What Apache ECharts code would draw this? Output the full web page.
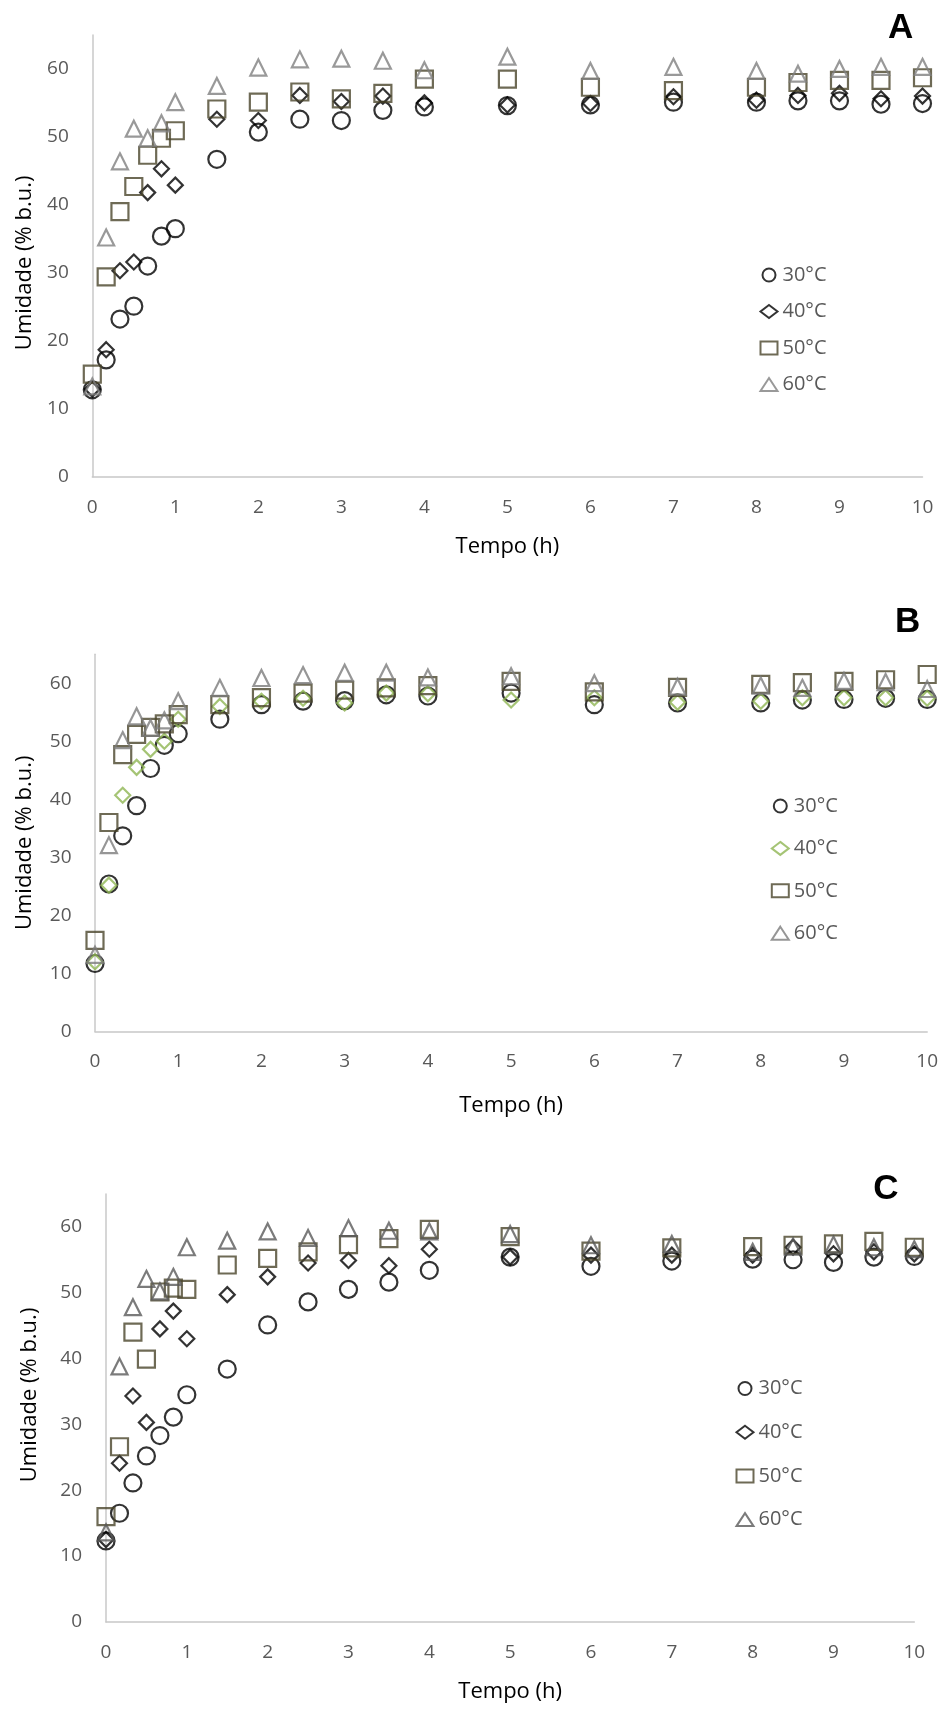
<!DOCTYPE html>
<html>
<head>
<meta charset="utf-8">
<script src="https://cdn.jsdelivr.net/npm/echarts@6/dist/echarts.min.js"></script>
<style>
html,body{margin:0;padding:0;background:#fff;}
#chart{width:943px;height:1709px;}
</style>
</head>
<body>
<div id="chart"></div>
<script>
// Time (h)
const times = [0, 0.167, 0.333, 0.5, 0.667, 0.833, 1, 1.5, 2, 2.5, 3, 3.5, 4, 5, 6, 7, 8, 8.5, 9, 9.5, 10];
const seriesLabels = ['30°C', '40°C', '50°C', '60°C'];
const panelLabels = ['A', 'B', 'C'];
const yTicks = [0, 10, 20, 30, 40, 50, 60];
const xTicks = [0, 1, 2, 3, 4, 5, 6, 7, 8, 9, 10];

// Panel A
const a30 = [12.8, 17.2, 23.2, 25.1, 31.0, 35.4, 36.5, 46.7, 50.7, 52.6, 52.4, 53.9, 54.4, 54.6, 54.7, 55.1, 55.1, 55.3, 55.3, 54.8, 54.9];
const a40 = [12.9, 18.7, 30.3, 31.6, 41.8, 45.3, 42.9, 52.6, 52.4, 56.1, 55.2, 56.0, 55.0, 54.7, 54.9, 55.9, 55.4, 56.1, 56.4, 55.6, 56.0];
const a50 = [15.1, 29.4, 39.0, 42.7, 47.3, 49.8, 50.9, 54.1, 55.1, 56.6, 55.6, 56.4, 58.5, 58.5, 57.3, 56.8, 57.3, 58.0, 58.3, 58.3, 58.7];
const a60 = [13.3, 35.2, 46.4, 51.2, 49.8, 52.0, 55.1, 57.5, 60.2, 61.4, 61.5, 61.2, 59.8, 61.8, 59.7, 60.3, 59.7, 59.3, 60.0, 60.3, 60.3];
// Panel B
const b30 = [11.7, 25.4, 33.7, 38.9, 45.3, 49.3, 51.3, 53.8, 56.3, 56.9, 57.0, 58.0, 57.8, 58.3, 56.3, 56.6, 56.6, 57.1, 57.2, 57.4, 57.2];
const b40 = [12.0, 25.2, 40.7, 45.5, 48.6, 50.0, 53.8, 56.0, 56.9, 57.4, 56.6, 58.3, 58.2, 57.1, 57.5, 56.7, 56.9, 57.5, 57.5, 57.5, 57.4];
const b50 = [15.7, 36.0, 47.7, 51.2, 52.4, 53.0, 54.6, 56.3, 57.5, 58.3, 58.8, 59.2, 59.6, 60.3, 58.5, 59.3, 59.8, 60.1, 60.3, 60.6, 61.5];
const b60 = [13.2, 32.1, 50.2, 54.3, 52.3, 53.6, 56.9, 59.2, 60.9, 61.4, 61.8, 61.8, 61.0, 61.2, 60.0, 59.4, 59.6, 59.2, 60.4, 60.2, 59.0];
// Panel C
const c30 = [12.3, 16.5, 21.1, 25.2, 28.3, 31.1, 34.5, 38.4, 45.1, 48.6, 50.5, 51.6, 53.4, 55.4, 54.0, 54.8, 55.1, 55.0, 54.6, 55.4, 55.5];
const c40 = [12.5, 24.1, 34.3, 30.3, 44.5, 47.2, 43.0, 49.7, 52.4, 54.5, 54.9, 54.1, 56.6, 55.4, 55.7, 55.7, 55.7, 56.9, 55.9, 56.2, 55.9];
const c50 = [16.0, 26.6, 44.0, 39.9, 50.1, 50.7, 50.5, 54.2, 55.2, 56.2, 57.3, 58.2, 59.6, 58.5, 56.3, 56.8, 57.0, 57.2, 57.4, 57.8, 56.9];
const c60 = [13.6, 38.8, 47.8, 52.1, 50.2, 52.4, 56.9, 57.9, 59.3, 58.3, 59.8, 59.4, 59.3, 58.9, 57.2, 57.4, 56.2, 57.0, 57.3, 56.9, 56.6];

const FONT = "'Open Sans', sans-serif";
const AXIS_COLOR = '#C8C8C8';
const LABEL_COLOR = '#595959';

const panels = [
  { key: 'A', data: [a30, a40, a50, a60], colors: ['#000000', '#000000', '#4A452B', '#808080'],
    grid: { left: 92.3, top: 34.9, width: 830.2, height: 441.9 },
    yMargin: 23.5, yNameGap: 57, yNamePad: [0, 14, 0, 0], xNameGap: 59,
    legend: { left: 759.5, top: 265, gap: 16.5 },
    title: { left: 888, top: 11 } },
  { key: 'B', data: [b30, b40, b50, b60], colors: ['#000000', '#8FB552', '#4A452B', '#7C7C7C'],
    grid: { left: 95, top: 654.2, width: 832.2, height: 377.2 },
    yMargin: 23.5, yNameGap: 59, yNamePad: [0, 0, 0, 0], xNameGap: 63,
    legend: { left: 770.8, top: 796, gap: 22.4 },
    title: { left: 895, top: 605 } },
  { key: 'C', data: [c30, c40, c50, c60], colors: ['#000000', '#000000', '#4A452B', '#5A5A5A'],
    grid: { left: 106, top: 1193.9, width: 808.3, height: 428 },
    yMargin: 24, yNameGap: 65, yNamePad: [0, 0, 0, 26], xNameGap: 59,
    legend: { left: 735.5, top: 1378.5, gap: 23.7 },
    title: { left: 873.3, top: 1171.5 } }
];

const symbols = ['circle', 'diamond', 'rect', 'triangle'];
const sizes = [17, 15, 17, 16];

const option = {
  backgroundColor: '#ffffff',
  animation: false,
  title: [], grid: [], xAxis: [], yAxis: [], legend: [], series: []
};

panels.forEach((p, gi) => {
  option.grid.push(p.grid);
  option.title.push({
    text: panelLabels[gi], left: p.title.left, top: p.title.top, padding: 0,
    textStyle: { fontFamily: "'Liberation Sans', Arial, sans-serif", fontWeight: 'bold', fontSize: 35, color: '#000' }
  });
  option.xAxis.push({
    type: 'value', gridIndex: gi, min: xTicks[0], max: xTicks[xTicks.length - 1], interval: 1,
    name: 'Tempo (h)', nameLocation: 'middle', nameGap: p.xNameGap,
    nameTextStyle: { fontFamily: FONT, fontSize: 22, color: '#000' },
    axisLine: { show: true, onZero: false, lineStyle: { color: AXIS_COLOR, width: 1.5 } },
    axisTick: { show: false }, splitLine: { show: false },
    axisLabel: { color: LABEL_COLOR, fontFamily: FONT, fontSize: 19, margin: 21 }
  });
  option.yAxis.push({
    type: 'value', gridIndex: gi, min: yTicks[0], max: 65, interval: 10,
    name: 'Umidade (% b.u.)', nameLocation: 'middle', nameGap: p.yNameGap, nameRotate: 90,
    nameTextStyle: { fontFamily: FONT, fontSize: 22, color: '#000', padding: p.yNamePad },
    axisLine: { show: true, onZero: false, lineStyle: { color: AXIS_COLOR, width: 1.5 } },
    axisTick: { show: false }, splitLine: { show: false },
    axisLabel: { color: LABEL_COLOR, fontFamily: FONT, fontSize: 19, margin: p.yMargin,
      formatter: v => (yTicks.indexOf(v) >= 0 ? String(v) : '') }
  });
  const names = seriesLabels.map(s => p.key + '|' + s);
  option.legend.push({
    data: names, orient: 'vertical', left: p.legend.left, top: p.legend.top,
    itemGap: p.legend.gap, itemWidth: 17, itemHeight: 13, padding: 0, selectedMode: false,
    formatter: n => n.split('|')[1],
    itemStyle: { borderWidth: 2 },
    textStyle: { fontFamily: FONT, fontSize: 20, lineHeight: 20, color: LABEL_COLOR }
  });
  p.data.forEach((vals, si) => {
    option.series.push({
      type: 'scatter', name: names[si], xAxisIndex: gi, yAxisIndex: gi,
      symbol: symbols[si], symbolSize: sizes[si],
      itemStyle: { color: 'rgba(0,0,0,0)', borderColor: p.colors[si], borderWidth: 2.2 },
      emphasis: { disabled: true },
      data: times.map((t, i) => [t, vals[i]])
    });
  });
});

const chart = echarts.init(document.getElementById('chart'), null, { renderer: 'canvas' });
chart.setOption(option);
</script>
</body>
</html>
